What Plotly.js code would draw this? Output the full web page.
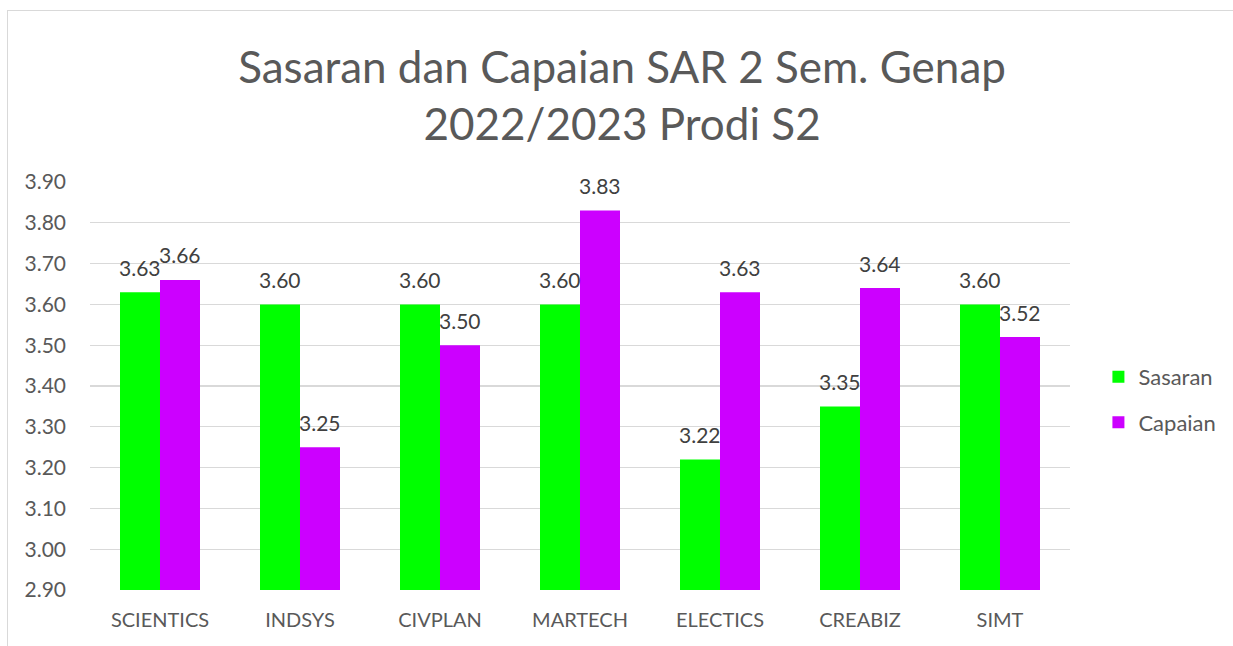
<!DOCTYPE html>
<html>
<head>
<meta charset="utf-8">
<script src="https://cdn.plot.ly/plotly-3.0.1.min.js"></script>
<style>
html,body{margin:0;padding:0;background:#fff;overflow:hidden;}
#chart{width:1233px;height:646px;position:absolute;left:0;top:0;}
#frame{position:absolute;left:7px;top:10px;width:1240px;height:660px;border:1.5px solid #d9d9d9;pointer-events:none;box-sizing:border-box;}
</style>
</head>
<body>
<div id="chart"></div>
<div id="frame"></div>
<script>
const categories = ["SCIENTICS","INDSYS","CIVPLAN","MARTECH","ELECTICS","CREABIZ","SIMT"];
const sasaran = [3.63, 3.60, 3.60, 3.60, 3.22, 3.35, 3.60];
const capaian = [3.66, 3.25, 3.50, 3.83, 3.63, 3.64, 3.52];
const tickVals = [2.9,3.0,3.1,3.2,3.3,3.4,3.5,3.6,3.7,3.8,3.9];

const FONT = "Lato, 'Open Sans', sans-serif";
const labelFont = {family: FONT, size: 21, color: '#404040'};

const traces = [
  {type:'bar', name:'Sasaran', x:categories, y:sasaran, marker:{color:'#00FF00'},
   legendgroup:'a', hoverinfo:'x+y'},
  {type:'bar', name:'Capaian', x:categories, y:capaian, marker:{color:'#CC00FF'},
   legendgroup:'b', hoverinfo:'x+y'}
];

// data labels above each bar (offset to each bar of the group)
const annotations = [];
categories.forEach((c, i) => {
  annotations.push({x:c, y:sasaran[i], xref:'x', yref:'y', text:sasaran[i].toFixed(2),
    showarrow:false, xshift:-20, yshift:25, yanchor:'middle', font:labelFont});
  annotations.push({x:c, y:capaian[i], xref:'x', yref:'y', text:capaian[i].toFixed(2),
    showarrow:false, xshift:20, yshift:25, yanchor:'middle', font:labelFont});
});

const layout = {
  width:1233, height:646,
  margin:{l:90, r:163, t:182, b:56},
  paper_bgcolor:'rgba(0,0,0,0)', plot_bgcolor:'#fff',
  font:{family:FONT, color:'#595959', size:16},
  title:{text:'Sasaran dan Capaian SAR 2 Sem. Genap<br>2022/2023 Prodi S2',
         font:{family:FONT, size:44, color:'#595959'},
         xref:'container', x:0.5045, xanchor:'center',
         yref:'container', y:1-83/646, yanchor:'middle'},
  barmode:'group', bargap:0.4286, bargroupgap:0,
  xaxis:{type:'category', showgrid:false, zeroline:false, showline:false, ticks:'',
         ticklabelstandoff:16,
         tickfont:{family:FONT, size:20, color:'#595959'}},
  yaxis:{range:[2.9,3.9], tickvals:tickVals, ticktext:tickVals.map(v=>v.toFixed(2)),
         showgrid:true, gridcolor:'#d9d9d9', gridwidth:1.3, zeroline:false, showline:false,
         ticks:'', ticklabelstandoff:23,
         tickfont:{family:FONT, size:21, color:'#595959'}},
  annotations: annotations,
  showlegend:true,
  legend:{x:1.029, xanchor:'left', y:0.466, yanchor:'middle', traceorder:'grouped',
          tracegroupgap:14, font:{family:FONT, size:22, color:'#595959'}, bgcolor:'rgba(0,0,0,0)'}
};

Plotly.newPlot('chart', traces, layout, {displayModeBar:false, staticPlot:true});
</script>
</body>
</html>
